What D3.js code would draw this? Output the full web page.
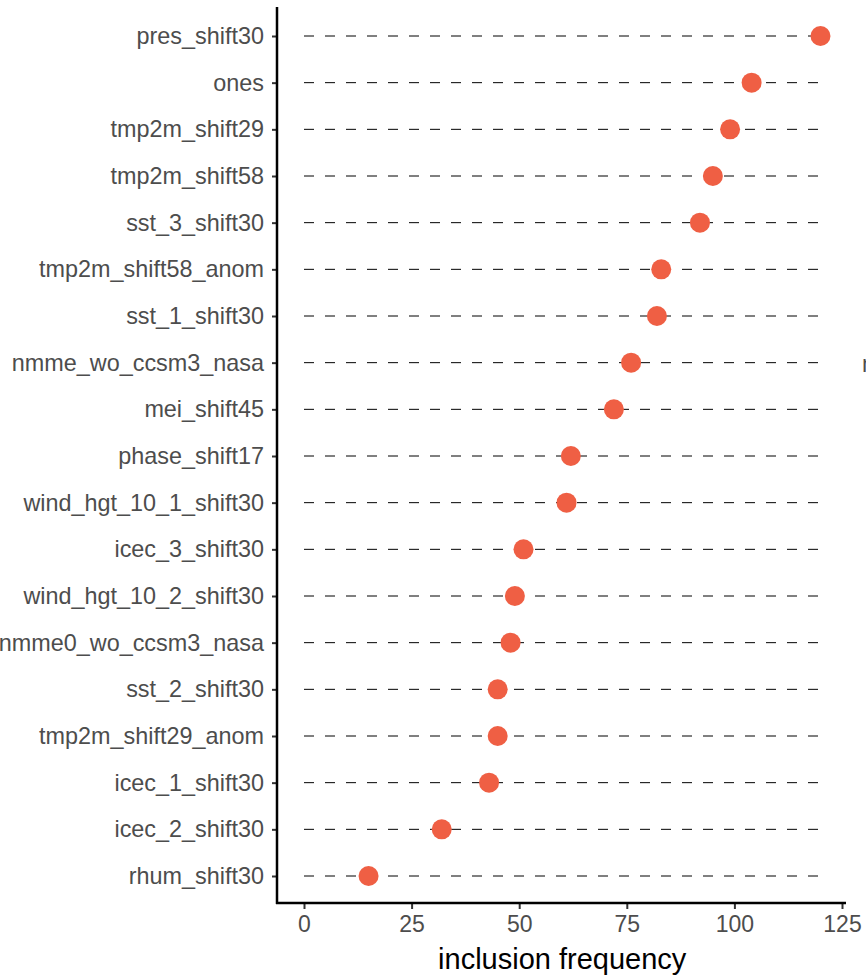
<!DOCTYPE html>
<html>
<head>
<meta charset="utf-8">
<script src="https://cdn.jsdelivr.net/npm/d3@7"></script>
<style>
  body { margin: 0; background: #fff; }
  svg { display: block; font-family: "Liberation Sans", Arial, sans-serif; }
</style>
</head>
<body>
<svg id="chart" width="866" height="979"></svg>
<script>
// variables, top to bottom
const variables = [
  "pres_shift30", "ones", "tmp2m_shift29", "tmp2m_shift58", "sst_3_shift30",
  "tmp2m_shift58_anom", "sst_1_shift30", "nmme_wo_ccsm3_nasa", "mei_shift45",
  "phase_shift17", "wind_hgt_10_1_shift30", "icec_3_shift30", "wind_hgt_10_2_shift30",
  "nmme0_wo_ccsm3_nasa", "sst_2_shift30", "tmp2m_shift29_anom", "icec_1_shift30",
  "icec_2_shift30", "rhum_shift30"
];
const frequency = [120, 104, 99, 95, 92, 83, 82, 76, 72, 62, 61, 51, 49, 48, 45, 45, 43, 32, 15];
const xTicks = [0, 25, 50, 75, 100, 125];

(function() {
  const svg = d3.select("#chart");
  const plotLeft = 277, plotRight = 846, plotTop = 7, plotBottom = 903;

  const x = d3.scaleLinear().domain([0, 125]).range([304, 842]);
  const y = d3.scalePoint().domain(variables).range([36, 876]);
  const maxVal = d3.max(frequency);

  // dashed guide lines
  svg.append("g").selectAll("line")
    .data(variables)
    .enter().append("line")
    .attr("x1", x(0)).attr("x2", x(maxVal))
    .attr("y1", d => y(d)).attr("y2", d => y(d))
    .attr("stroke", "#000")
    .attr("stroke-width", 1)
    .attr("stroke-dasharray", "10,11");

  // points
  svg.append("g").selectAll("circle")
    .data(variables)
    .enter().append("circle")
    .attr("cx", (d, i) => x(frequency[i]))
    .attr("cy", d => y(d))
    .attr("r", 10)
    .attr("fill", "#ef5f44");

  // y axis
  const yAxis = svg.append("g")
    .attr("transform", `translate(${plotLeft},0)`)
    .call(d3.axisLeft(y).tickSize(5).tickPadding(8));
  yAxis.select(".domain").remove();
  yAxis.selectAll(".tick line").attr("stroke", "#333").attr("stroke-width", 2);
  yAxis.selectAll(".tick text").attr("fill", "#4d4d4d").style("font-size", "23.4px");
  svg.append("line")
    .attr("x1", plotLeft).attr("x2", plotLeft).attr("y1", plotTop).attr("y2", plotBottom + 1)
    .attr("stroke", "#000").attr("stroke-width", 2.5);

  // x axis
  const xAxis = svg.append("g")
    .attr("transform", `translate(0,${plotBottom})`)
    .call(d3.axisBottom(x).tickValues(xTicks).tickSize(6).tickPadding(7));
  xAxis.select(".domain").remove();
  xAxis.selectAll(".tick line").attr("stroke", "#333").attr("stroke-width", 2);
  xAxis.selectAll(".tick text").attr("fill", "#4d4d4d").style("font-size", "23px");
  svg.append("line")
    .attr("x1", plotLeft - 1).attr("x2", plotRight).attr("y1", plotBottom).attr("y2", plotBottom)
    .attr("stroke", "#000").attr("stroke-width", 2.5);

  svg.append("text")
    .attr("x", x(60)).attr("y", 969)
    .attr("text-anchor", "middle")
    .style("font-size", "29px")
    .attr("fill", "#000")
    .text("inclusion frequency");

  // cropped legend text at the right edge
  svg.append("text")
    .attr("x", 862).attr("y", 372)
    .style("font-size", "23px")
    .attr("fill", "#4d4d4d")
    .text("n");
})();
</script>
</body>
</html>
